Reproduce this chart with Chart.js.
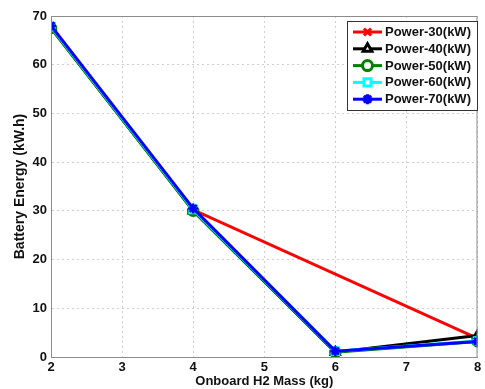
<!DOCTYPE html>
<html>
<head>
<meta charset="utf-8">
<script src="https://cdn.jsdelivr.net/npm/chart.js@4/dist/chart.umd.min.js"></script>
<style>
  html, body { margin: 0; padding: 0; background: #fff; }
  #wrap { width: 485px; height: 389px; }
</style>
</head>
<body>
<div id="wrap"><canvas id="chart"></canvas></div>
<script>
const massKg = [2, 4, 6, 8];
const power30 = [67.5, 30.2, null, 3.8];
const power40 = [67.7, 30.0, 1.0, 4.4];
const power50 = [67.5, 30.0, 1.0, 3.2];
const power60 = [67.8, 30.3, 1.2, 3.3];
const power70 = [68.0, 30.5, 1.2, 3.2];
const seriesLabels = ['Power-30(kW)', 'Power-40(kW)', 'Power-50(kW)', 'Power-60(kW)', 'Power-70(kW)'];

const FONT = 'Liberation Sans, Arial, Helvetica, sans-serif';

function points(values) {
  return massKg.map((m, i) => ({ x: m, y: values[i] }));
}

function series(label, values, color, pointStyle, order) {
  return {
    label,
    data: points(values),
    borderColor: color,
    backgroundColor: color,
    borderWidth: 3,
    pointStyle,
    pointRadius: 5,
    pointBorderWidth: 2.5,
    pointBackgroundColor: 'rgba(0,0,0,0)',
    spanGaps: true,
    tension: 0,
    order,
  };
}

// box around the plot area plus a matlab-style legend
const frameAndLegend = {
  id: 'frameAndLegend',
  afterDraw(chart) {
    const { ctx, chartArea } = chart;
    ctx.save();
    ctx.strokeStyle = '#8c8c8c';
    ctx.lineWidth = 1;
    ctx.strokeRect(chartArea.left + 0.5, chartArea.top + 0.5,
      chartArea.right - chartArea.left - 1, chartArea.bottom - chartArea.top);

    const boxX = 347, boxY = 21, boxW = 130, boxH = 89;
    ctx.fillStyle = '#fff';
    ctx.fillRect(boxX, boxY, boxW, boxH);
    ctx.strokeStyle = '#333';
    ctx.lineWidth = 1;
    ctx.strokeRect(boxX + 0.5, boxY + 0.5, boxW, boxH);

    ctx.font = `bold 13px ${FONT}`;
    ctx.textBaseline = 'middle';
    chart.data.datasets.forEach((ds, i) => {
      const y = boxY + 11 + i * 16.8;
      ctx.strokeStyle = ds.borderColor;
      ctx.lineWidth = 3;
      ctx.beginPath();
      ctx.moveTo(353, y);
      ctx.lineTo(382, y);
      ctx.stroke();
      ctx.fillStyle = '#fff';
      Chart.helpers.drawPoint(ctx, {
        pointStyle: ds.pointStyle, radius: 5, rotation: 0, borderWidth: ds.pointBorderWidth,
      }, 367.5, y);
      ctx.fillStyle = '#111';
      ctx.fillText(ds.label, 385, y + 0.5);
    });
    ctx.restore();
  },
};

new Chart(document.getElementById('chart'), {
  type: 'line',
  data: {
    datasets: [
      series(seriesLabels[0], power30, '#ff0000', 'crossRot', 4),
      series(seriesLabels[1], power40, '#000000', 'triangle', 3),
      series(seriesLabels[2], power50, '#008000', 'circle', 2),
      series(seriesLabels[3], power60, '#00ffff', 'rect', 1),
      series(seriesLabels[4], power70, '#0000ff', 'star', 0),
    ],
  },
  options: {
    responsive: true,
    maintainAspectRatio: false,
    animation: false,
    layout: { padding: { top: 16, right: 2, left: 0, bottom: 0 } },
    plugins: {
      legend: { display: false },
      tooltip: { enabled: false },
    },
    scales: {
      x: {
        type: 'linear',
        min: 2,
        max: 8,
        ticks: { stepSize: 1, padding: 3, color: '#111', font: { family: FONT, size: 13, weight: 'bold' } },
        grid: { color: '#cfcfcf', drawTicks: false },
        border: { color: '#8c8c8c', dash: [2, 3] },
        title: {
          display: true,
          text: 'Onboard H2 Mass (kg)',
          color: '#111',
          padding: { top: 0, bottom: 0 },
          font: { family: FONT, size: 13, weight: 'bold' },
        },
        afterFit(scale) { scale.height = 32; },
      },
      y: {
        min: 0,
        max: 70,
        ticks: { stepSize: 10, padding: 4, color: '#111', font: { family: FONT, size: 13, weight: 'bold' } },
        grid: { color: '#cfcfcf', drawTicks: false },
        border: { color: '#8c8c8c', dash: [2, 3] },
        title: {
          display: true,
          text: 'Battery Energy (kW.h)',
          color: '#111',
          padding: { top: 12, bottom: 0 },
          font: { family: FONT, size: 14, weight: 'bold' },
        },
        afterFit(scale) { scale.width = 51; },
      },
    },
  },
  plugins: [frameAndLegend],
});
</script>
</body>
</html>
